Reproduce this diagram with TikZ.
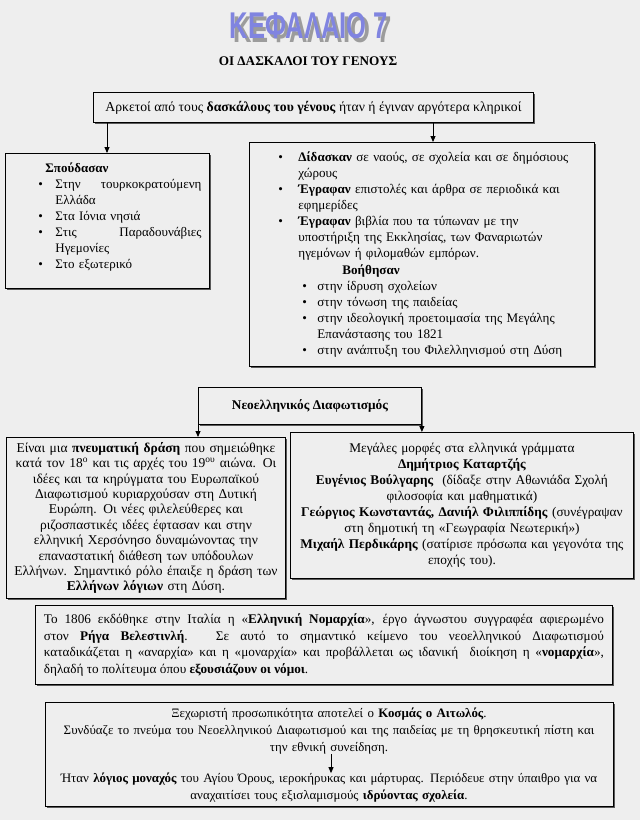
\documentclass[tikz,border=0pt]{standalone}
\usepackage{fontspec}
\usepackage{pdfrender}
\setmainfont{Liberation Serif}
\newfontfamily\titlefont{Liberation Sans}
\usetikzlibrary{arrows.meta,shadows}
\definecolor{bg}{HTML}{EEEEEE}
\definecolor{tfill}{HTML}{8084E0}
\definecolor{tline}{HTML}{1E2290}
\definecolor{tshadow}{HTML}{9C9C9C}
\newcommand\ttltext{\titlefont\bfseries ΚΕΦΑΛΑΙΟ 7}
\newcommand\bul{\makebox[0pt][l]{\textbullet}}
\begin{document}
\begin{tikzpicture}[x=1pt,y=-1pt,
  box/.style={draw=black, line width=0.9pt, fill=bg, inner sep=0pt, anchor=north west,
    drop shadow={shadow xshift=2pt, shadow yshift=-2pt, fill=black!65, opacity=1}},
  arr/.style={line width=0.9pt, -{Triangle[length=6pt,width=5pt]}},
  txt/.style={font=\fontsize{13}{16}\selectfont},
  ttext/.style={inner sep=0pt}]
\useasboundingbox[fill=bg] (0,0) rectangle (640,820);

% title
\node[ttext, text=tshadow] (tsh) at (312.5,29.5) {\resizebox{158pt}{26pt}{\ttltext}};
\node[ttext, text=tfill] (title) at (309,26)
  {\resizebox{158pt}{26pt}{\textpdfrender{TextRenderingMode=FillStroke, LineWidth=2.4pt, FillColor=tfill, StrokeColor=tline}{\ttltext}}};
\node[ttext, font=\fontsize{13.2}{14}\selectfont\bfseries] (subtitle) at (308,61) {ΟΙ ΔΑΣΚΑΛΟΙ ΤΟΥ ΓΕΝΟΥΣ};

% top box
\node[box, font=\fontsize{13.7}{16}\selectfont, minimum width=440pt, minimum height=30pt] (top) at (93,92)
  {Αρκετοί από τους \textbf{δασκάλους του γένους} ήταν ή έγιναν αργότερα κληρικοί};

% left box
\node[box, txt, minimum width=204pt, minimum height=135pt, text width=204pt, align=left] (lbox) at (5,153)
  {\hspace*{40pt}\textbf{Σπούδασαν}\\
   \hspace*{33pt}\bul\hspace*{17pt}\makebox[146pt][s]{Στην\hfill τουρκοκρατούμενη}\\
   \hspace*{50pt}Ελλάδα\\
   \hspace*{33pt}\bul\hspace*{17pt}Στα Ιόνια νησιά\\
   \hspace*{33pt}\bul\hspace*{17pt}\makebox[146pt][s]{Στις\hfill Παραδουνάβιες}\\
   \hspace*{50pt}Ηγεμονίες\\
   \hspace*{33pt}\bul\hspace*{17pt}Στο εξωτερικό\\[-6pt]\mbox{}};

% right box
\node[box, font=\fontsize{13.1}{16.1}\selectfont, minimum width=345pt, minimum height=224pt, text width=345pt, align=left] (rbox) at (249,142)
  {\hspace*{29pt}\bul\hspace*{20pt}\textbf{Δίδασκαν} σε ναούς, σε σχολεία και σε δημόσιους\\
   \hspace*{49pt}χώρους\\
   \hspace*{29pt}\bul\hspace*{20pt}\textbf{Έγραφαν} επιστολές και άρθρα σε περιοδικά και\\
   \hspace*{49pt}εφημερίδες\\
   \hspace*{29pt}\bul\hspace*{20pt}\textbf{Έγραφαν} βιβλία που τα τύπωναν με την\\
   \hspace*{49pt}υποστήριξη της Εκκλησίας, των Φαναριωτών\\
   \hspace*{49pt}ηγεμόνων ή φιλομαθών εμπόρων.\\
   \hspace*{93pt}\textbf{Βοήθησαν}\\
   \hspace*{53pt}\bul\hspace*{15pt}στην ίδρυση σχολείων\\
   \hspace*{53pt}\bul\hspace*{15pt}στην τόνωση της παιδείας\\
   \hspace*{53pt}\bul\hspace*{15pt}στην ιδεολογική προετοιμασία της Μεγάλης\\
   \hspace*{68pt}Επανάστασης του 1821\\
   \hspace*{53pt}\bul\hspace*{15pt}στην ανάπτυξη του Φιλελληνισμού στη Δύση};

\coordinate (c1) at (107,0);
\coordinate (c2) at (433,0);
\draw[arr] (top.south -| c1) -- (lbox.north -| c1);
\draw[arr] (top.south -| c2) -- (rbox.north -| c2);

% Neoellinikos Diafotismos
\node[box, minimum width=223pt, minimum height=37pt, font=\fontsize{13.3}{15}\selectfont\bfseries] (neo) at (198,387)
  {Νεοελληνικός Διαφωτισμός};

\node[box, font=\fontsize{13.5}{15.4}\selectfont, minimum width=279pt, minimum height=161pt, text width=279pt, align=center] (llow) at (6,437)
  {Είναι μια \textbf{πνευματική δράση} που σημειώθηκε\\
   κατά τον 18\textsuperscript{ο} και τις αρχές του 19\textsuperscript{ου} αιώνα. Οι\\
   ιδέες και τα κηρύγματα του Ευρωπαϊκού\\
   Διαφωτισμού κυριαρχούσαν στη Δυτική\\
   Ευρώπη. Οι νέες φιλελεύθερες και\\
   ριζοσπαστικές ιδέες έφτασαν και στην\\
   ελληνική Χερσόνησο δυναμώνοντας την\\
   επαναστατική διάθεση των υπόδουλων\\
   Ελλήνων. Σημαντικό ρόλο έπαιξε η δράση των\\
   \textbf{Ελλήνων λόγιων} στη Δύση.};

\node[box, font=\fontsize{13.3}{16}\selectfont, minimum width=343pt, minimum height=146pt, text width=343pt, align=center] (rlow) at (290,432)
  {Μεγάλες μορφές στα ελληνικά γράμματα\\
   \textbf{Δημήτριος Καταρτζής}\\
   \textbf{Ευγένιος Βούλγαρης}\ \ (δίδαξε στην Αθωνιάδα Σχολή\\
   φιλοσοφία και μαθηματικά)\\
   \textbf{Γεώργιος Κωνσταντάς, Δανιήλ Φιλιππίδης} (συνέγραψαν\\
   στη δημοτική τη «Γεωγραφία Νεωτερική»)\\
   \textbf{Μιχαήλ Περδικάρης} (σατίρισε πρόσωπα και γεγονότα της\\
   εποχής του).};

\draw[arr] (neo.south west) -- (llow.north -| neo.south west);
\draw[arr] (neo.south east) -- (rlow.north -| neo.south east);

% Nomarchia
\node[box, font=\fontsize{13.2}{16.5}\selectfont, minimum width=577pt, minimum height=79pt, text width=560pt, align=justify] (nom) at (35,605)
  {Το 1806 εκδόθηκε στην Ιταλία η «\textbf{Ελληνική Νομαρχία}», έργο άγνωστου συγγραφέα αφιερωμένο\linebreak
   στον \textbf{Ρήγα Βελεστινλή}. Σε αυτό το σημαντικό κείμενο του νεοελληνικού Διαφωτισμού\linebreak
   καταδικάζεται η «αναρχία» και η «μοναρχία» και προβάλλεται ως ιδανική\ \ διοίκηση η «\textbf{νομαρχία}»,\linebreak
   δηλαδή το πολίτευμα όπου \textbf{εξουσιάζουν οι νόμοι}.};

% Kosmas
\node[box, minimum width=568pt, minimum height=104pt] (kos) at (45,702) {};
\node[inner sep=0pt, font=\fontsize{12.9}{17}\selectfont, text width=568pt, align=center] (k1) at (329,731)
  {Ξεχωριστή προσωπικότητα αποτελεί ο \textbf{Κοσμάς ο Αιτωλός}.\\
   Συνδύαζε το πνεύμα του Νεοελληνικού Διαφωτισμού και της παιδείας με τη θρησκευτική πίστη και\\
   την εθνική συνείδηση.};
\node[inner sep=0pt, font=\fontsize{12.9}{17}\selectfont, text width=568pt, align=center] (k2) at (329,788)
  {Ήταν \textbf{λόγιος μοναχός} του Αγίου Όρους, ιεροκήρυκας και μάρτυρας. Περιόδευε στην ύπαιθρο για να\\
   αναχαιτίσει τους εξισλαμισμούς \textbf{ιδρύοντας σχολεία}.};
\coordinate (c3) at (331,0);
\draw[arr] (k1.south -| c3) -- (k2.north -| c3);
\end{tikzpicture}
\end{document}
